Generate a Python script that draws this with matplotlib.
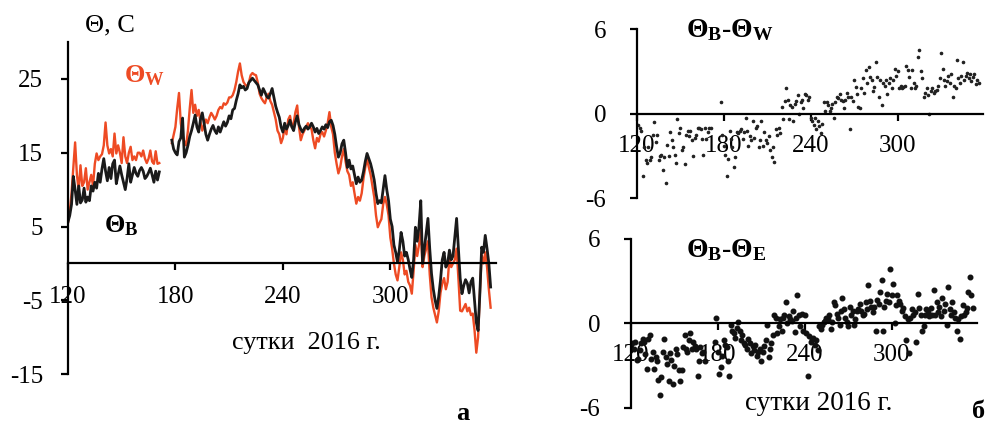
import matplotlib.pyplot as plt
import numpy as np

plt.rcParams['font.family'] = ['Liberation Serif', 'DejaVu Serif']
plt.rcParams['mathtext.fontset'] = 'custom'
plt.rcParams['mathtext.rm'] = 'Liberation Serif'
plt.rcParams['mathtext.bf'] = 'Liberation Serif:bold'
plt.rcParams['mathtext.it'] = 'Liberation Serif:italic'
plt.rcParams['axes.unicode_minus'] = False

RED = '#EE4B24'

# days of 2016, two observation periods
days_1 = np.arange(120, 172)
days_2 = np.arange(178, 357)

# air temperature, C
theta_b_1 = [5.6, 6.5, 8.0, 11.8, 10.0, 8.0, 10.5, 8.2, 8.6, 10.2,
             8.3, 9.0, 8.5, 10.5, 9.8, 11.0, 10.2, 12.2, 11.0, 12.8,
             14.2, 12.5, 11.2, 13.0, 11.5, 13.5, 14.0, 10.8, 12.0, 13.2,
             12.0, 11.0, 10.0, 11.5, 13.5, 11.0, 12.0, 13.0, 12.2, 11.8,
             12.6, 13.0, 12.5, 11.5, 11.8, 12.3, 12.9, 12.0, 11.0, 12.5,
             11.3, 12.4]
theta_b_2 = [16.7, 15.5, 15.0, 14.7, 16.5, 17.0, 19.7, 14.4, 15.0, 16.0,
             17.2, 18.0, 19.0, 20.1, 18.5, 17.8, 19.5, 20.4, 19.0, 17.5,
             16.7, 17.5, 18.2, 18.7, 18.0, 17.6, 18.5, 17.8, 18.5, 19.2,
             18.6, 19.1, 20.0, 19.6, 20.8, 21.0, 22.1, 23.0, 24.2, 23.8,
             24.0, 23.5, 23.7, 24.5, 24.8, 25.1, 24.8, 24.5, 24.2, 23.5,
             22.8, 23.7, 23.2, 22.6, 22.4, 23.0, 23.7, 22.5, 21.3, 20.5,
             19.8, 18.5, 17.8, 19.0, 18.2, 18.7, 19.4, 18.5, 18.0, 19.2,
             20.0, 18.8, 18.2, 17.8, 18.3, 18.6, 18.2, 18.5, 19.0, 18.5,
             17.8, 18.3, 17.6, 18.0, 18.5, 18.2, 18.8, 18.4, 19.2, 19.4,
             18.7, 17.5, 15.8, 14.4, 15.0, 16.2, 16.7, 15.0, 13.0, 14.0,
             12.8, 13.2, 12.0, 10.8, 11.7, 11.0, 11.3, 12.4, 13.8, 14.9,
             14.2, 13.5, 12.5, 11.3, 9.5, 8.1, 8.5, 8.2, 10.0, 11.9,
             10.0, 8.5, 6.0, 5.0, 2.5, 1.5, 0.2, 1.8, 4.2, 3.0,
             1.0, 1.5, 0.5, -0.8, -1.9, 0.5, 4.9, 3.0, 5.0, 8.5,
             0.0, 2.0, 4.0, 6.1, 2.0, -1.4, -3.5, -5.0, -6.1, -4.5,
             -2.3, 0.5, 1.5, -0.5, 0.0, 1.8, 0.5, 1.0, 3.5, 6.1,
             2.0, -2.0, -4.1, -3.0, -2.2, -2.7, -4.0, -2.5, -2.0, -5.0,
             -8.0, -9.1, -4.0, 2.2, 1.5, 3.8, 2.0, 0.0, -3.2]

theta_w_1 = [5.5, 7.0, 9.5, 13.0, 16.4, 12.0, 9.9, 13.3, 10.5, 11.0,
             12.9, 10.0, 11.0, 12.0, 10.5, 13.5, 14.9, 14.0, 14.5, 14.8,
             16.0, 19.1, 16.0, 14.9, 15.5, 14.5, 17.6, 14.9, 16.0, 15.0,
             13.6, 17.1, 14.5, 13.6, 15.0, 15.8, 14.0, 14.5, 14.0, 15.0,
             15.0, 14.5, 15.3, 14.2, 13.6, 14.2, 15.3, 13.8, 13.5, 15.2,
             13.5, 13.6]
theta_w_2 = [16.3, 17.4, 18.5, 21.0, 23.1, 19.0, 17.4, 16.5, 16.0, 18.0,
             21.0, 23.5, 20.4, 21.5, 20.0, 20.8, 19.2, 18.0, 18.8, 19.5,
             19.0, 19.8, 20.4, 20.0, 19.5, 20.0, 20.8, 21.2, 21.0, 21.7,
             21.5, 21.8, 22.5, 22.5, 22.8, 23.5, 24.6, 26.0, 27.1, 25.5,
             24.6, 24.2, 24.0, 24.5, 25.5, 25.8, 25.6, 25.5, 24.5, 23.0,
             22.4, 22.0, 21.7, 22.5, 23.0, 22.0, 21.5, 20.5, 19.5, 18.0,
             17.5, 16.3, 17.0, 18.5, 17.5, 19.5, 20.0, 18.5, 19.0, 20.5,
             21.4, 18.5, 16.7, 17.5, 18.0, 18.5, 19.0, 18.5, 18.2, 16.7,
             15.6, 17.0, 16.5, 17.5, 17.8, 17.2, 18.0, 19.0, 20.5, 18.5,
             17.5, 15.0, 13.5, 12.2, 13.0, 14.5, 15.5, 13.8, 12.5, 12.0,
             10.5, 11.0, 9.5, 8.1, 9.0, 8.5, 9.5, 11.5, 13.0, 14.2,
             13.0, 12.0, 10.5, 9.0, 6.5, 4.9, 5.5, 6.0, 8.0, 9.0,
             8.0, 6.5, 3.5, 2.0, 0.0, -1.5, -2.3, -0.5, 1.5, 0.5,
             -1.5, -1.0, -2.5, -3.0, -4.1, -1.0, 2.5, 1.0, 2.5, 4.5,
             -0.5, 1.0, 2.0, 3.0, -1.5, -4.6, -6.0, -7.0, -8.0, -6.5,
             -4.0, -2.7, -2.0, -3.5, -2.5, 0.8, -0.5, 0.0, 0.5, 2.0,
             -2.0, -6.4, -6.5, -6.0, -5.5, -6.5, -6.0, -7.0, -6.8, -9.0,
             -12.1, -10.0, -4.0, 1.1, 0.0, 1.5, -0.5, -3.5, -6.0]

# daily differences
diff_days_1 = np.arange(121, 172)
diff_days_2 = np.arange(178, 357)

diff_bw_1 = [-0.8, -1.0, -1.2, -4.4, -2.4, -3.3, -3.5, -2.4, -3.3, -3.1,
             -1.5, -0.6, -2.0, -1.5, -3.3, -3.0, -2.9, -4.0, -3.1, -4.9,
             -2.2, -3.0, -1.3, -1.9, -2.4, -2.9, -3.5, -0.4, -1.4, -1.0,
             -2.6, -2.4, -3.6, -1.5, -1.2, -1.6, -1.2, -1.9, -3.0, -1.7,
             -1.5, -1.0, -1.0, -1.1, -1.8, -2.9, -1.0, -1.8, -1.3, -1.0,
             -1.0]
diff_bw_2 = [0.8, -1.5, -2.3, -2.9, -4.4, -3.2, -1.2, -1.8, -2.4, -3.8,
             -3.1, -1.3, -1.4, -1.2, -1.1, -1.8, -1.3, -0.3, -1.2, -2.3,
             -1.6, -1.9, -0.5, -1.7, -1.0, -0.9, -2.4, -1.9, -0.5, -2.3,
             -1.3, -1.9, -2.1, -1.6, -2.6, -3.1, -2.4, -3.4, -1.1, -1.5,
             -1.0, -1.4, 0.5, -0.4, 0.9, 1.8, 1.0, -0.4, 0.6, 0.5,
             -0.5, 0.7, 0.9, 1.3, 0.0, 0.8, 1.0, 0.4, 1.4, 1.3,
             1.0, 1.2, -0.3, -0.5, -0.8, -0.3, -1.1, -0.5, -0.9, -1.4,
             -0.7, 0.8, 0.2, 0.8, 0.6, 0.2, 0.4, 0.7, -0.3, 0.8,
             1.2, 1.1, 1.4, 1.0, 0.9, 0.4, 1.0, 1.5, 1.2, -1.1,
             1.2, 0.9, 2.4, 1.9, 1.4, 0.5, 0.4, 1.8, 2.5, 1.5,
             3.1, 2.2, 3.3, 2.6, 2.4, 1.6, 1.9, 3.7, 2.6, 1.2,
             2.4, 0.6, 2.2, 2.0, 2.4, 1.4, 2.2, 2.5, 1.8, 2.4,
             3.2, 2.7, 3.0, 1.8, 2.0, 1.8, 1.9, 2.0, 3.4, 3.1,
             2.6, 1.8, 3.1, 2.2, 1.8, 2.0, 4.0, 4.5, 3.0, 2.5,
             1.2, 1.5, 1.8, 1.3, 0.0, 1.6, 1.8, 1.5, 1.6, 1.7,
             2.0, 2.5, 4.3, 3.2, 2.4, 2.0, 2.3, 2.7, 2.2, 2.8,
             1.2, 2.0, 1.8, 3.8, 2.5, 2.2, 2.7, 3.7, 2.4, 2.7,
             2.9, 2.5, 2.8, 2.3, 2.6, 2.8, 2.1, 2.4, 2.2]

diff_be_1 = [-1.4, -1.8, -1.3, -2.6, -2.5, -1.9, -1.4, -1.1, -1.3, -2.2,
             -3.2, -1.1, -0.8, -2.5, -2.0, -3.2, -2.4, -2.7, -4.0, -5.1,
             -3.8, -2.0, -1.1, -2.4, -2.9, -4.1, -2.1, -2.6, -4.3, -3.0,
             -1.8, -2.2, -3.3, -4.1, -3.3, -1.7, -0.8, -1.8, -2.0, -1.2,
             -0.7, -1.8, -1.3, -1.6, -1.8, -3.7, -2.7, -1.7, -2.1, -2.0,
             -2.7]
diff_be_2 = [-1.3, 0.4, -2.0, -3.6, -3.1, -2.3, -1.2, -1.5, -1.7, -2.7,
             -3.7, -0.1, -0.5, -0.7, -1.0, -0.3, 0.1, -0.5, -1.2, -0.8,
             -1.4, -1.5, -1.8, -1.1, -1.4, -2.1, -1.6, -1.9, -1.5, -2.3,
             -2.0, -1.8, -2.7, -2.0, -1.6, -1.2, -0.1, -2.4, -1.8, -1.4,
             -0.8, 0.6, 0.4, -0.7, -0.2, 0.3, -0.5, 0.4, 0.6, 1.5,
             0.0, 0.5, 0.3, 0.2, 0.9, -0.6, 0.4, 2.0, 0.6, -0.2,
             0.7, -0.5, 0.6, -0.7, -3.7, -0.9, -1.3, -1.1, -1.0, -1.5,
             -1.2, -1.9, -0.2, -0.4, -0.1, 0.1, 0.2, 0.4, 0.3, 0.6,
             -0.4, 0.1, 1.5, 1.3, 0.7, 0.4, -0.1, 0.9, 1.8, 1.0,
             0.4, 0.1, -0.2, 1.2, 0.6, 0.9, -0.1, 0.3, 0.9, 1.0,
             1.4, 0.9, 0.6, 0.7, 1.5, 1.0, 2.7, 1.6, 1.2, 0.8,
             1.2, -0.5, 1.7, 1.4, 2.2, 3.1, -0.5, 1.2, 1.6, 2.1,
             1.5, 3.9, 2.0, 2.8, 0.0, 1.3, 2.0, 1.6, 1.4, 0.9,
             1.1, 0.5, -1.2, 0.3, -2.1, 0.4, 1.0, 0.6, 0.8, -1.3,
             2.1, 1.1, 0.6, -0.5, -0.2, 0.6, 1.0, 0.8, 0.5, 1.1,
             0.6, 2.4, 0.6, 1.5, 0.8, 1.2, 0.5, 1.8, 0.9, 1.4,
             -0.1, 2.6, 1.0, 0.6, 1.5, 0.8, 0.4, -0.5, 0.3, -1.1,
             0.5, 1.3, 0.6, 0.8, 1.1, 2.2, 3.3, 2.0, 1.1]

x_ticks = [120, 180, 240, 300]


def style_axis(ax, yticks, ylim, pad_y, pad_x):
    ax.set_xlim(120, 359)
    ax.set_ylim(*ylim)
    ax.spines['top'].set_visible(False)
    ax.spines['right'].set_visible(False)
    ax.spines['bottom'].set_position(('data', 0))
    for s in ('left', 'bottom'):
        ax.spines[s].set_linewidth(1.6)
    ax.set_xticks(x_ticks)
    ax.set_yticks(yticks)
    ax.tick_params(axis='both', labelsize=18, width=1.6, length=5,
                   direction='out')
    ax.tick_params(axis='y', pad=pad_y)
    ax.tick_params(axis='x', pad=pad_x)
    ax.patch.set_alpha(0)


fig = plt.figure(figsize=(9.92, 4.29), dpi=100)

# left: temperature series
ax = fig.add_axes([0.0685, 0.128, 0.4315, 0.774])
ax.plot(days_1, theta_w_1, color=RED, lw=1.7)
ax.plot(days_2, theta_w_2, color=RED, lw=1.7)
ax.plot(days_1, theta_b_1, color='#1a1a1a', lw=2.0)
ax.plot(days_2, theta_b_2, color='#1a1a1a', lw=2.0)
style_axis(ax, [-15, -5, 5, 15, 25], (-15, 30), pad_y=13, pad_x=11)

# right: differences
ax1 = fig.add_axes([0.642, 0.538, 0.349, 0.394])
ax1.plot(diff_days_1, diff_bw_1, 'o', color='#222222', ms=1.6)
ax1.plot(diff_days_2, diff_bw_2, 'o', color='#222222', ms=1.6)
style_axis(ax1, [-6, 0, 6], (-6, 6), pad_y=17, pad_x=10)

ax2 = fig.add_axes([0.636, 0.049, 0.349, 0.394])
ax2.plot(diff_days_1, diff_be_1, 'o', color='#111111', ms=3.3)
ax2.plot(diff_days_2, diff_be_2, 'o', color='#111111', ms=3.3)
style_axis(ax2, [-6, 0, 6], (-6, 6), pad_y=17, pad_x=10)


def ftext(x, y, s, **kw):
    fig.text(x / 992, 1 - y / 429, s, **kw)


ftext(85, 25, 'Θ, С', fontsize=19, va='center')
ftext(124, 76, r'$\mathbf{\Theta_W}$', fontsize=19, color=RED, va='center')
ftext(104, 226, r'$\mathbf{\Theta_B}$', fontsize=19, va='center')
ftext(232, 343, 'сутки  2016 г.', fontsize=18.8, va='center')
ftext(456, 414, 'а', fontsize=19, fontweight='bold', va='center')

ftext(686, 30, r'$\mathbf{\Theta_B}$-$\mathbf{\Theta_W}$', fontsize=20,
      va='center', fontweight='bold')
ftext(686, 250, r'$\mathbf{\Theta_B}$-$\mathbf{\Theta_E}$', fontsize=20,
      va='center', fontweight='bold')
ftext(745, 404, 'сутки 2016 г.', fontsize=19.5, va='center')
ftext(972, 411, 'б', fontsize=19, fontweight='bold', va='center')

plt.savefig('out.png', dpi=100)
